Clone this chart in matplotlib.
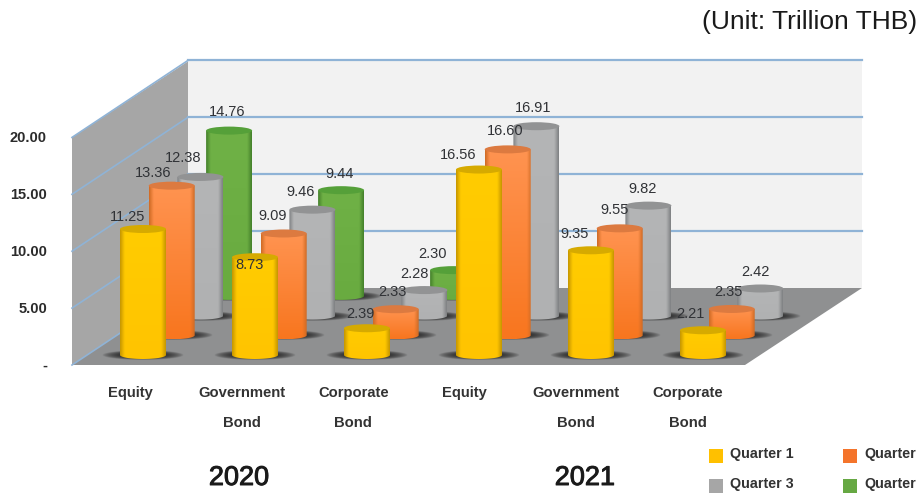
import numpy as np
import matplotlib
matplotlib.use("Agg")
import matplotlib.pyplot as plt
import matplotlib.patheffects as pe
from matplotlib.path import Path
from matplotlib.patches import PathPatch, Ellipse, Polygon, Rectangle

plt.rcParams["font.family"] = ["Liberation Sans", "DejaVu Sans"]

# --- datos ---
CATEGORIES = ["Equity", "Government\nBond", "Corporate\nBond",
              "Equity", "Government\nBond", "Corporate\nBond"]
YEARS = ["2020", "2021"]
Q1 = [11.25, 8.73, 2.39, 16.56, 9.35, 2.21]
Q2 = [13.36, 9.09, 2.33, 16.60, 9.55, 2.35]
Q3 = [12.38, 9.46, 2.28, 16.91, 9.82, 2.42]
Q4 = [14.76, 9.44, 2.30, None, None, None]
SERIES = [Q1, Q2, Q3, Q4]
LEGEND_LABELS = ["Quarter 1", "Quarter", "Quarter 3", "Quarter"]
Y_TICKS = [0, 5, 10, 15, 20]
Y_TICK_LABELS = ["-", "5.00", "10.00", "15.00", "20.00"]

# borde, centro arriba, centro abajo, tapa
STYLES = [
    ("#c89800", "#ffcc00", "#ffc400", "#d6aa00"),
    ("#d06c26", "#ff9350", "#f8761f", "#dc7a40"),
    ("#808284", "#b4b5b6", "#b0b1b2", "#929394"),
    ("#46822c", "#6fb146", "#69ab40", "#55a039"),
]

# desplazamiento de cada etiqueta respecto a la tapa del cilindro
LABEL_DX = [[-15, -5, -7, -21, -16, -13],
            [-19, -11, -3, -3, -5, -3],
            [-17, -12, -10, -3, -6, -5],
            [-2, -2, -21, 0, 0, 0]]
LABEL_DY = [[-8, 12, -10, -11, -12, -12],
            [-9, -13, -13, -14, -14, -13],
            [-15, -14, -12, -14, -13, -12],
            [-15, -12, -12, 0, 0, 0]]

# --- geometria de la proyeccion oblicua (en pixeles) ---
W, H = 919, 494
X0, Y0 = 143, 355       # base del primer cilindro
DX_CAT = 112
DX_SER, DY_SER = 28.7, -19.7
PX_PER_UNIT = 11.2
RX, RY = 23, 4
FLOOR_L, FLOOR_B = 72, 365
BACK_L, BACK_B = 188, 288
FLOOR_W = 674
WALL_UNIT = 11.38


def project(cat, ser, value=0.0):
    return X0 + cat * DX_CAT + ser * DX_SER, Y0 + ser * DY_SER - value * PX_PER_UNIT


def wall_y(value):
    return FLOOR_B - value * WALL_UNIT


def hex_rgb(c):
    return np.array(matplotlib.colors.to_rgb(c))


def cylinder(ax, cx, y_base, y_top, style, z):
    edge, mid_top, mid_bot, cap = style
    # sombra sobre el piso
    nx, ny = 120, 30
    u, v = np.meshgrid(np.linspace(-1, 1, nx), np.linspace(-1, 1, ny))
    shadow = np.zeros((ny, nx, 4))
    shadow[..., 0:3] = 0.08
    shadow[..., 3] = np.clip(1 - (u ** 2 + v ** 2), 0, 1) ** 0.7 * 0.95
    ax.imshow(shadow, extent=(cx - 41, cx + 41, y_base + 5, y_base - 5),
              aspect="auto", zorder=z, interpolation="bilinear")

    # cuerpo con degradado horizontal
    t = np.linspace(0, np.pi, 100)
    xs = np.r_[cx - RX, cx - RX, cx - RX * np.cos(t), cx + RX]
    ys = np.r_[y_top, y_base, y_base + RY * np.sin(t), y_top]
    body = PathPatch(Path(np.c_[xs, ys]), fc="none", ec="none", zorder=z + 1)
    ax.add_patch(body)
    uu = np.linspace(0, 1, 64)
    prof = np.clip(np.sin(np.pi * uu) * 3.2, 0, 1)[None, :, None]
    vv = np.linspace(0, 1, 32)[:, None, None]
    mid = hex_rgb(mid_top) * (1 - vv) + hex_rgb(mid_bot) * vv
    img = hex_rgb(edge) * (1 - prof) + mid * prof
    im = ax.imshow(img, extent=(cx - RX, cx + RX, y_base + RY, y_top),
                   aspect="auto", zorder=z + 1, interpolation="bilinear")
    im.set_clip_path(body)

    # tapa
    ax.add_patch(Ellipse((cx, y_top), 2 * RX, 2 * RY, fc=cap, ec="none", zorder=z + 2))


fig = plt.figure(figsize=(W / 100, H / 100), dpi=100, facecolor="white")
ax = fig.add_axes([0, 0, 1, 1])
ax.set_axis_off()

# paredes y piso
ax.add_patch(Polygon([(BACK_L, wall_y(20) - 76), (BACK_L + FLOOR_W, wall_y(20) - 76),
                      (BACK_L + FLOOR_W, BACK_B), (BACK_L, BACK_B)], fc="#f2f2f2", ec="none", zorder=1))
ax.add_patch(Polygon([(FLOOR_L, wall_y(20)), (BACK_L, wall_y(20) - 76),
                      (BACK_L, BACK_B), (FLOOR_L, FLOOR_B)], fc="#a6a6a6", ec="none", zorder=1))
ax.add_patch(Polygon([(FLOOR_L, FLOOR_B), (BACK_L, BACK_B), (BACK_L + FLOOR_W, BACK_B),
                      (FLOOR_L + FLOOR_W - 1, FLOOR_B)], fc="#8f9091", ec="none", zorder=2))

# rejilla
GRID = "#8fb3d6"
for tick, tick_label in zip(Y_TICKS, Y_TICK_LABELS):
    y = wall_y(tick)
    ax.plot([FLOOR_L, BACK_L], [y, y - 77], color=GRID, lw=1.2, zorder=3)
    if tick > 0:
        ax.plot([BACK_L, BACK_L + FLOOR_W], [y - 77, y - 77], color=GRID, lw=1.6, zorder=3)
    ax.text(47, y + 1, tick_label, ha="right", va="center", fontsize=10.5, fontweight="bold", color="#2b2b2b")

# cilindros de atras hacia adelante
z = 10
for ser in reversed(range(len(SERIES))):
    for cat, value in enumerate(SERIES[ser]):
        if value is None:
            continue
        cx, y_base = project(cat, ser)
        _, y_top = project(cat, ser, value)
        cylinder(ax, cx, y_base, y_top, STYLES[ser], z)
        z += 3

# etiquetas de valor
for ser, values in enumerate(SERIES):
    for cat, value in enumerate(values):
        if value is None:
            continue
        cx, y_top = project(cat, ser, value)
        ax.text(cx + LABEL_DX[ser][cat], y_top - RY + LABEL_DY[ser][cat], f"{value:.2f}",
                ha="center", va="center", fontsize=10.5, color="#303236", zorder=500)

# ejes de categorias
for cat, name in enumerate(CATEGORIES):
    x = 130 + cat * 111.6
    for row, part in enumerate(name.split("\n")):
        ax.text(x, 393 + row * 29.5, part, ha="center", va="center",
                fontsize=10.6, fontweight="bold", color="#333333")

year_stroke = [pe.withStroke(linewidth=0.7, foreground="#1a1a1a")]
ax.text(239, 478, YEARS[0], ha="center", va="center", fontsize=19.5, color="#1a1a1a", path_effects=year_stroke)
ax.text(585, 478, YEARS[1], ha="center", va="center", fontsize=19.5, color="#1a1a1a", path_effects=year_stroke)
ax.text(917, 22, "(Unit: Trillion THB)", ha="right", va="center", fontsize=19, color="#1a1a1a")

# leyenda
LEG_COLORS = ["#ffc000", "#f4742b", "#a6a6a6", "#66a843"]
for i, (label, color) in enumerate(zip(LEGEND_LABELS, LEG_COLORS)):
    lx = 709 + (i % 2) * 134
    ly = 449 + (i // 2) * 30
    ax.add_patch(Rectangle((lx, ly), 14, 14, fc=color, ec="none", zorder=5))
    ax.text(lx + 21, ly + 5, label, ha="left", va="center", fontsize=10.3, fontweight="bold", color="#333333")

ax.set_xlim(0, W)
ax.set_ylim(H, 0)
fig.savefig("out.png", dpi=100)
